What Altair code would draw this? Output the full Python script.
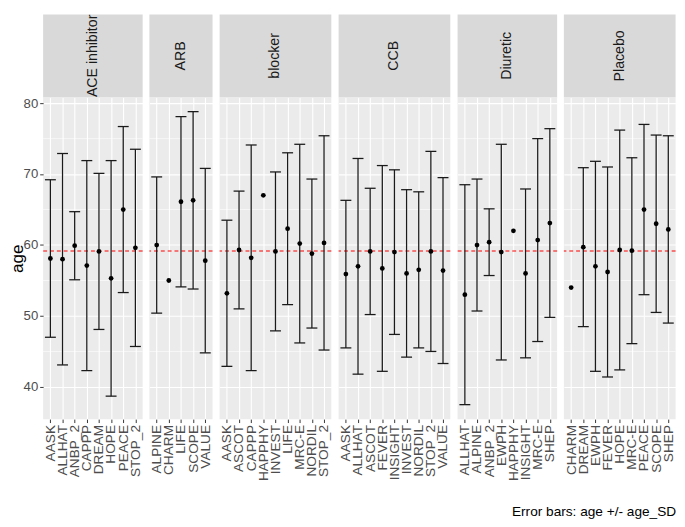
import altair as alt
import pandas as pd

groups = ["ACE inhibitor", "ARB", "blocker", "CCB", "Diuretic", "Placebo"]

ace_trials = ["AASK", "ALLHAT", "ANBP_2", "CAPPP", "DREAM", "HOPE", "PEACE", "STOP_2"]
ace_age = [58.1, 58.0, 59.9, 57.1, 59.1, 55.3, 65.0, 59.6]
ace_sd = [11.1, 14.9, 4.8, 14.8, 11.0, 16.6, 11.7, 13.9]

arb_trials = ["ALPINE", "CHARM", "LIFE", "SCOPE", "VALUE"]
arb_age = [60.0, 55.0, 66.1, 66.3, 57.8]
arb_sd = [9.6, None, 12.0, 12.5, 13.0]

blocker_trials = ["AASK", "ASCOT", "CAPPP", "HAPPHY", "INVEST", "LIFE", "MRC-E", "NORDIL", "STOP_2"]
blocker_age = [53.2, 59.3, 58.2, 67.0, 59.1, 62.3, 60.2, 58.8, 60.3]
blocker_sd = [10.3, 8.3, 15.9, None, 11.2, 10.7, 14.0, 10.5, 15.1]

ccb_trials = ["AASK", "ALLHAT", "ASCOT", "FEVER", "INSIGHT", "INVEST", "NORDIL", "STOP_2", "VALUE"]
ccb_age = [55.9, 57.0, 59.1, 56.7, 59.0, 56.0, 56.5, 59.1, 56.4]
ccb_sd = [10.4, 15.2, 8.9, 14.5, 11.6, 11.8, 11.0, 14.1, 13.1]

diuretic_trials = ["ALLHAT", "ALPINE", "ANBP_2", "EWPH", "HAPPHY", "INSIGHT", "MRC-E", "SHEP"]
diuretic_age = [53.0, 60.0, 60.4, 59.0, 62.0, 56.0, 60.7, 63.1]
diuretic_sd = [15.5, 9.3, 4.7, 15.2, None, 11.9, 14.3, 13.3]

placebo_trials = ["CHARM", "DREAM", "EWPH", "FEVER", "HOPE", "MRC-E", "PEACE", "SCOPE", "SHEP"]
placebo_age = [54.0, 59.7, 57.0, 56.2, 59.3, 59.2, 65.0, 63.0, 62.2]
placebo_sd = [None, 11.2, 14.8, 14.8, 16.9, 13.1, 12.0, 12.5, 13.2]

overall_mean = [59.17]
y_major = [40, 50, 60, 70, 80]
y_minor = [45, 55, 65, 75]
y_domain = [35.46, 80.82]
caption = "Error bars: age +/- age_SD"

series = [
    (groups[0], ace_trials, ace_age, ace_sd),
    (groups[1], arb_trials, arb_age, arb_sd),
    (groups[2], blocker_trials, blocker_age, blocker_sd),
    (groups[3], ccb_trials, ccb_age, ccb_sd),
    (groups[4], diuretic_trials, diuretic_age, diuretic_sd),
    (groups[5], placebo_trials, placebo_age, placebo_sd),
]

STEP = 12.45
PANEL_H = 330
STRIP_H = 85
FONT = "Liberation Sans"
CAP = 5.6


def panel(name, trials, ages, sds, first):
    df = pd.DataFrame({"trial": trials, "age": ages, "sd": sds})
    df["lo"] = df["age"] - df["sd"]
    df["hi"] = df["age"] + df["sd"]
    bars = df.dropna(subset=["sd"])
    w = STEP * (len(trials) + 0.2)

    xaxis = alt.Axis(title=None, labelAngle=270, grid=True, ticks=True, labelPadding=2)
    xs = alt.Scale(type="point", padding=0.6)
    ys = alt.Scale(domain=y_domain, nice=False, zero=False)
    if first:
        yaxis = alt.Axis(title="age", values=y_major, grid=True, titleFontSize=17.5,
                         titleFontWeight="normal", titleColor="black", titlePadding=-3,
                         labelPadding=2, labelFontSize=13.5)
    else:
        yaxis = alt.Axis(title=None, values=y_major, grid=True, labels=False, ticks=False)

    def X():
        return alt.X("trial:N", sort=trials, scale=xs, axis=xaxis)

    def Y(field):
        return alt.Y(field, scale=ys, axis=yaxis, title="age" if first else None)

    minor = alt.Chart(pd.DataFrame({"age": y_minor})).mark_rule(
        color="white", strokeWidth=0.6).encode(y=Y("age:Q"))
    hline = alt.Chart(pd.DataFrame({"age": overall_mean})).mark_rule(
        color="#FF0000", strokeWidth=1.1, strokeDash=[4, 3]).encode(y=Y("age:Q"))
    vlines = alt.Chart(bars).mark_rule(color="#1A1A1A", strokeWidth=1.3).encode(
        x=X(), y=Y("lo:Q"), y2="hi:Q")
    cap_lo = alt.Chart(bars).mark_rule(color="#1A1A1A", strokeWidth=1.3,
                                       xOffset=-CAP, x2Offset=CAP).encode(
        x=X(), x2="trial:N", y=Y("lo:Q"))
    cap_hi = alt.Chart(bars).mark_rule(color="#1A1A1A", strokeWidth=1.3,
                                       xOffset=-CAP, x2Offset=CAP).encode(
        x=X(), x2="trial:N", y=Y("hi:Q"))
    pts = alt.Chart(df).mark_circle(color="black", size=24, opacity=1).encode(
        x=X(), y=Y("age:Q"))

    sdf = pd.DataFrame({"g": [name]})
    strip = alt.Chart(sdf).mark_rect(color="#D9D9D9").encode(
        x=alt.value(0), x2=alt.value(w), y=alt.value(-STRIP_H), y2=alt.value(0))
    stext = alt.Chart(sdf).mark_text(angle=270, align="center", baseline="middle",
                                     fontSize=14.5, font=FONT, color="#1A1A1A").encode(
        x=alt.value(w / 2), y=alt.value(-STRIP_H / 2), text="g:N")

    return alt.layer(minor, hline, vlines, cap_lo, cap_hi, pts, strip, stext).properties(
        width=w, height=PANEL_H)


charts = [panel(n, t, a, s, i == 0) for i, (n, t, a, s) in enumerate(series)]

chart = alt.hconcat(*charts, spacing=5).properties(
    padding={"left": 0, "top": 0, "right": 0, "bottom": 0},
    title=alt.TitleParams(caption, orient="bottom", anchor="end", fontSize=14,
                          fontWeight="normal", font=FONT, color="black", offset=25),
).configure_view(fill="#EBEBEB", stroke=None).configure_axis(
    gridColor="white", gridWidth=1.1, domain=False, tickColor="#333333", tickSize=3.5,
    labelColor="#4D4D4D", labelFont=FONT, labelFontSize=14, titleFont=FONT,
)

chart.save("out.html", embed_options={"renderer": "svg", "actions": False})
